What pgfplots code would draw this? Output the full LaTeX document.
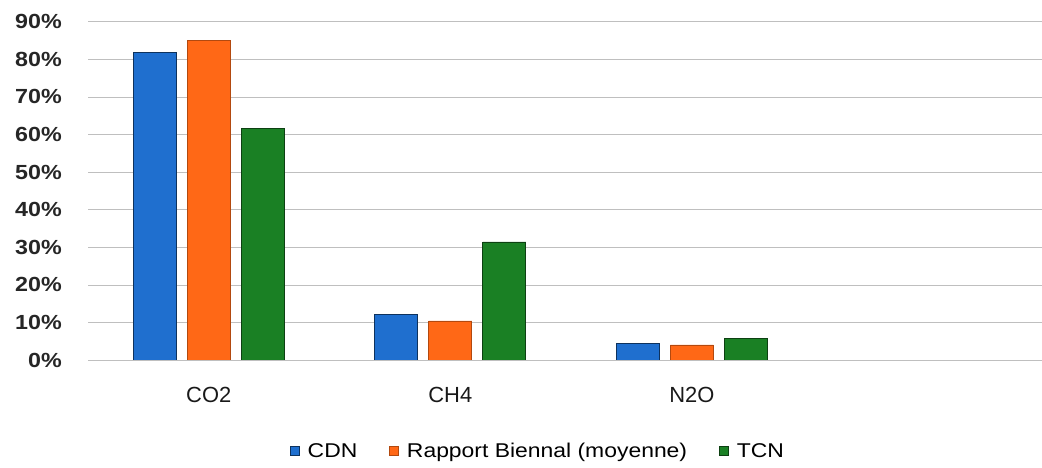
\documentclass[border=0pt]{standalone}
\usepackage{fontspec}
\setmainfont{Liberation Sans}
\newfontfamily\widefont{Liberation Sans}[FakeStretch=1.15]
\newfontfamily\tickfont{Liberation Sans Bold}[FakeStretch=1.14]
\usepackage{pgfplots}
\pgfplotsset{compat=1.18}

\definecolor{cdn}{RGB}{31,111,207}
\definecolor{rb}{RGB}{255,104,22}
\definecolor{tcn}{RGB}{26,128,36}

\begin{document}
\begin{tikzpicture}[x=1bp,y=1bp]
\useasboundingbox (0,0) rectangle (1042,468);
\begin{axis}[
  at={(88bp,108bp)}, anchor=south west,
  scale only axis, width=954bp, height=338.3bp,
  xmin=-0.5, xmax=3.45, ymin=0, ymax=90,
  ybar=11bp, bar width=43bp,
  axis line style={draw=none},
  major tick style={draw=none},
  ytick={0,10,...,90},
  ymajorgrids,
  grid style={black!25, line width=0.6pt},
  xtick={0,1,2},
  xticklabels={CO2,CH4,N2O},
  /pgf/number format/assume math mode=true,
  yticklabel={\pgfmathprintnumber{\tick}\%},
  yticklabel style={font=\tickfont\fontsize{20.5}{20.5}\selectfont, text=black!85,
    anchor=east, inner sep=0pt, xshift=-26bp},
  xticklabel style={font=\fontsize{22}{22}\selectfont, text=black!90,
    anchor=north, inner sep=0pt, yshift=-23bp},
  legend style={at={(axis description cs:0.4717,-0.269)}, anchor=center,
    draw=none, fill=none, font=\widefont\fontsize{20}{20}\selectfont,
    legend columns=-1,
    /tikz/every odd column/.append style={column sep=6bp},
    /tikz/every even column/.append style={column sep=30bp}},
  legend image code/.code={\draw[#1, line width=0.6pt] (0bp,-4.5bp) rectangle (9bp,4.5bp);},
]
\addplot[fill=cdn, draw=cdn!45!black, line width=0.8pt] coordinates {(0,81.8) (1,12.2) (2,4.5)};
\addplot[fill=rb, draw=rb!70!black, line width=0.8pt] coordinates {(0,85.0) (1,10.4) (2,4.0)};
\addplot[fill=tcn, draw=tcn!50!black, line width=0.8pt] coordinates {(0,61.5) (1,31.4) (2,5.8)};
\legend{CDN, Rapport Biennal (moyenne), TCN}
\end{axis}
\end{tikzpicture}
\end{document}
